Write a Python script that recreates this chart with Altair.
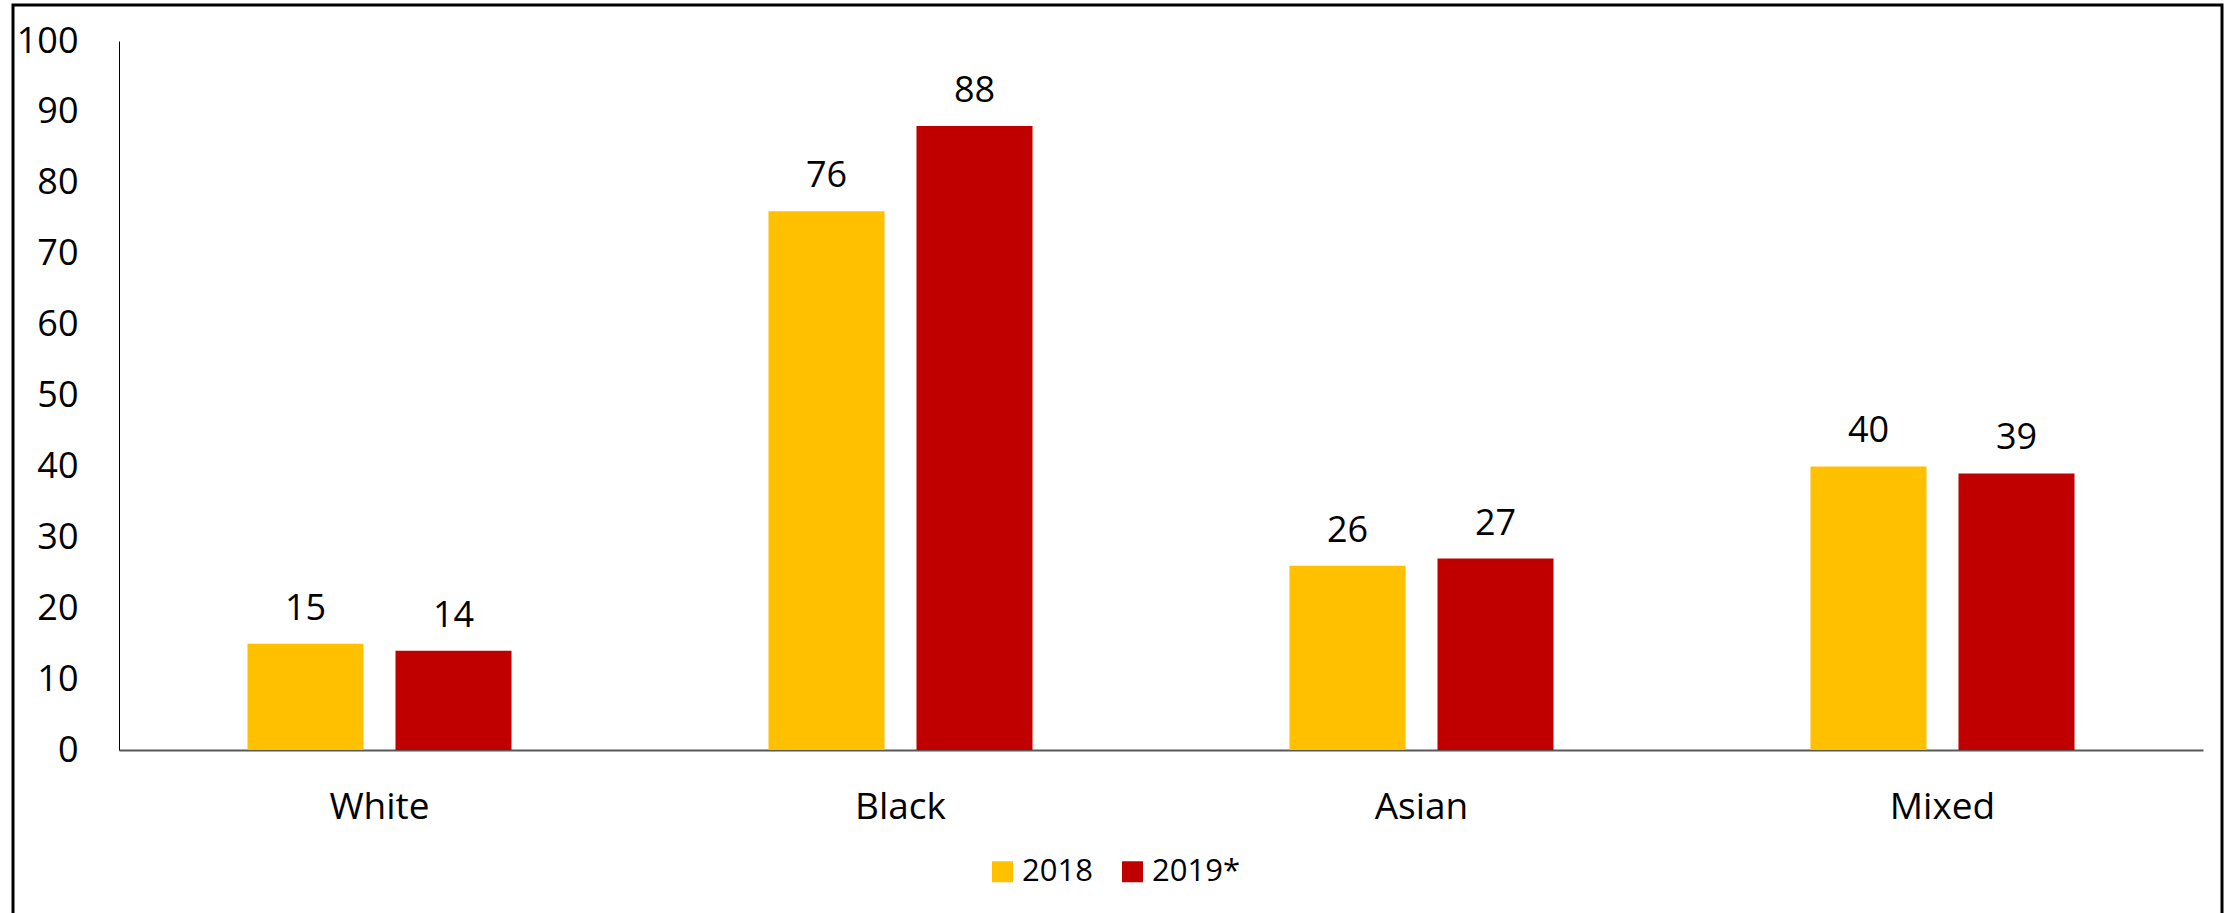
import altair as alt
import pandas as pd

categories = ["White", "Black", "Asian", "Mixed"]
years = ["2018", "2019*"]
values_2018 = [15, 76, 26, 40]
values_2019 = [14, 88, 27, 39]
colors = ["#FFC000", "#C00000"]
y_ticks = list(range(0, 101, 10))

rows = []
for c, a, b in zip(categories, values_2018, values_2019):
    rows.append({"cat": c, "year": years[0], "value": a})
    rows.append({"cat": c, "year": years[1], "value": b})
df = pd.DataFrame(rows)

FONT = "Open Sans"
W, H = 2084, 709

x = alt.X(
    "cat:N", sort=categories,
    scale=alt.Scale(paddingInner=0, paddingOuter=0),
    axis=alt.Axis(title=None, labelAngle=0, ticks=False, domainColor="#595959",
                  domainWidth=2, labelFontSize=37, labelPadding=39,
                  labelColor="black", labelFont=FONT),
)
xo = alt.XOffset("year:N", sort=years,
                 scale=alt.Scale(paddingInner=0.216, paddingOuter=0.868))
y = alt.Y(
    "value:Q", scale=alt.Scale(domain=[0, 100], nice=False),
    axis=alt.Axis(values=y_ticks, title=None, grid=False, ticks=False,
                  domainColor="black", domainWidth=1, labelPadding=41,
                  labelFontSize=36, labelColor="black", labelFont=FONT),
)

base = alt.Chart(df)

bars = base.mark_bar().encode(
    x=x, xOffset=xo, y=y,
    color=alt.Color(
        "year:N", sort=years,
        scale=alt.Scale(domain=years, range=colors),
        legend=alt.Legend(
            title=None, orient="none", legendX=868, legendY=815,
            direction="horizontal", symbolType="square", symbolSize=441,
            symbolStrokeWidth=0, labelFontSize=31, labelFont=FONT,
            labelColor="black", columnPadding=24, labelOffset=4,
        ),
    ),
)

labels = base.mark_text(dy=-24, baseline="alphabetic", fontSize=36,
                        font=FONT, color="black").encode(
    x=x, xOffset=xo, y=y, text=alt.Text("value:Q"),
)

border = alt.Chart(pd.DataFrame({"a": [0]})).mark_rect(
    filled=False, stroke="black", strokeWidth=3
).encode(
    x=alt.value(-106), x2=alt.value(2103), y=alt.value(-36), y2=alt.value(900)
)

chart = alt.layer(bars, labels, border).properties(
    width=W, height=H,
    padding={"left": 119, "top": 41, "right": 30, "bottom": 163},
    autosize=alt.AutoSizeParams(type="none"),
    background="white",
).configure_view(stroke=None)

chart.save("out.html", embed_options={"renderer": "svg", "actions": False})
